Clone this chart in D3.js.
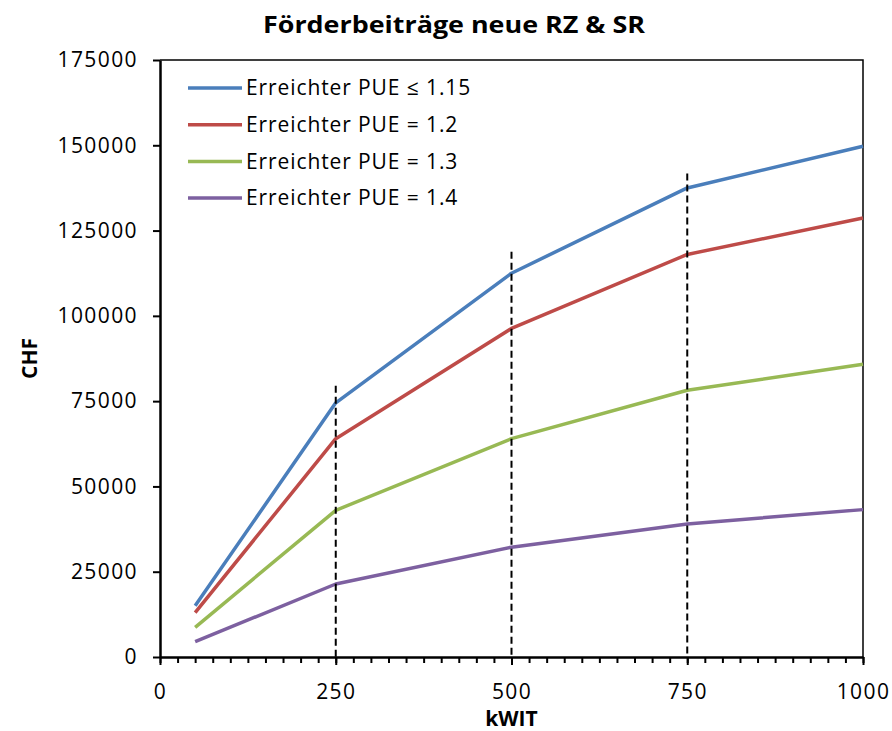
<!DOCTYPE html>
<html>
<head>
<meta charset="utf-8">
<script src="https://cdn.jsdelivr.net/npm/d3@7"></script>
<style>
  body { margin: 0; background: #fff; }
  text { font-family: "Open Sans", "Liberation Sans", sans-serif; fill: #000; }
  .tick text { font-size: 21px; letter-spacing: 1.4px; }
  .legend text { font-size: 21px; letter-spacing: 0.9px; }
</style>
</head>
<body>
<div id="chart"></div>
<script>
// data
var kwit = [50, 250, 500, 750, 1000];
var seriesNames = ["Erreichter PUE \u2264 1.15", "Erreichter PUE = 1.2", "Erreichter PUE = 1.3", "Erreichter PUE = 1.4"];
var pue115 = [15000, 74500, 112500, 137500, 149700];
var pue12 = [13000, 64000, 96300, 118000, 128700];
var pue13 = [8700, 43000, 64000, 78200, 85800];
var pue14 = [4500, 21400, 32200, 39000, 43200];
var colors = ["#4a7ebb", "#be4b48", "#98b954", "#7d60a0"];
// dashed drop lines
var dropX = [250, 500, 750];
var dropTop = [79500, 118800, 141700];
var xTicks = [0, 250, 500, 750, 1000];
var yTicks = [0, 25000, 50000, 75000, 100000, 125000, 150000, 175000];

var W = 892, H = 731;
var margin = {top: 60, right: 29, bottom: 74, left: 160};

var svg = d3.select("#chart").append("svg")
    .attr("width", W).attr("height", H);

var x = d3.scaleLinear().domain([0, 1000]).range([margin.left, W - margin.right]);
var y = d3.scaleLinear().domain([0, 175000]).range([H - margin.bottom, margin.top]);

// frame top & right
svg.append("path")
  .attr("d", "M" + x(0) + "," + y(175000) + "H" + x(1000) + "V" + y(0))
  .attr("fill", "none").attr("stroke", "#000").attr("stroke-width", 1.5);

// minor x ticks every 25
svg.append("g")
  .attr("transform", "translate(0," + y(0) + ")")
  .call(d3.axisBottom(x).tickValues(d3.range(0, 1001, 25)).tickSize(6).tickFormat(""))
  .call(g => g.select(".domain").remove())
  .selectAll("line").attr("stroke-width", 2);

var xAxis = svg.append("g")
  .attr("transform", "translate(0," + y(0) + ")")
  .call(d3.axisBottom(x).tickValues(xTicks).tickFormat(d3.format("d"))
        .tickSize(8).tickSizeOuter(0).tickPadding(19));
xAxis.select(".domain").attr("stroke-width", 2.5);
xAxis.selectAll("line").attr("stroke-width", 2);

var yAxis = svg.append("g")
  .attr("transform", "translate(" + x(0) + ",0)")
  .call(d3.axisLeft(y).tickValues(yTicks).tickFormat(d3.format("d"))
        .tickSize(7).tickSizeOuter(0).tickPadding(15));
yAxis.select(".domain").attr("stroke-width", 2.5);
yAxis.selectAll("line").attr("stroke-width", 2);
svg.selectAll(".tick text").attr("font-family", null).attr("font-size", null);

// series lines
var allSeries = [pue115, pue12, pue13, pue14];
var line = d3.line().x((d, i) => x(kwit[i])).y(d => y(d));
svg.append("g").selectAll("path")
  .data(allSeries)
  .enter().append("path")
    .attr("d", d => line(d))
    .attr("fill", "none")
    .attr("stroke", (d, i) => colors[i])
    .attr("stroke-width", 3.5)
    .attr("stroke-linejoin", "round");

// dashed verticals
svg.append("g").selectAll("line")
  .data(dropX)
  .enter().append("line")
    .attr("x1", d => x(d)).attr("x2", d => x(d))
    .attr("y1", (d, i) => y(dropTop[i])).attr("y2", y(0))
    .attr("stroke", "#000").attr("stroke-width", 2)
    .attr("stroke-dasharray", "7,4");

// legend
var legend = svg.append("g").attr("class", "legend");
seriesNames.forEach(function(name, i) {
  var ly = 88 + i * 36.7;
  legend.append("line")
    .attr("x1", 188).attr("x2", 242).attr("y1", ly).attr("y2", ly)
    .attr("stroke", colors[i]).attr("stroke-width", 3.5);
  legend.append("text")
    .attr("x", 246).attr("y", ly).attr("dy", "0.35em")
    .text(name);
});

// titles
svg.append("text")
  .attr("x", 454).attr("y", 33)
  .attr("text-anchor", "middle")
  .attr("font-size", 24).attr("font-weight", "bold")
  .attr("textLength", 382).attr("lengthAdjust", "spacingAndGlyphs")
  .text("F\u00f6rderbeitr\u00e4ge neue RZ & SR");

svg.append("text")
  .attr("x", x(500)).attr("y", 726)
  .attr("text-anchor", "middle")
  .attr("font-size", 21).attr("font-weight", "bold")
  .text("kWIT");

svg.append("text")
  .attr("transform", "translate(37," + y(87500) + ") rotate(-90)")
  .attr("text-anchor", "middle")
  .attr("font-size", 21).attr("font-weight", "bold")
  .text("CHF");
</script>
</body>
</html>
